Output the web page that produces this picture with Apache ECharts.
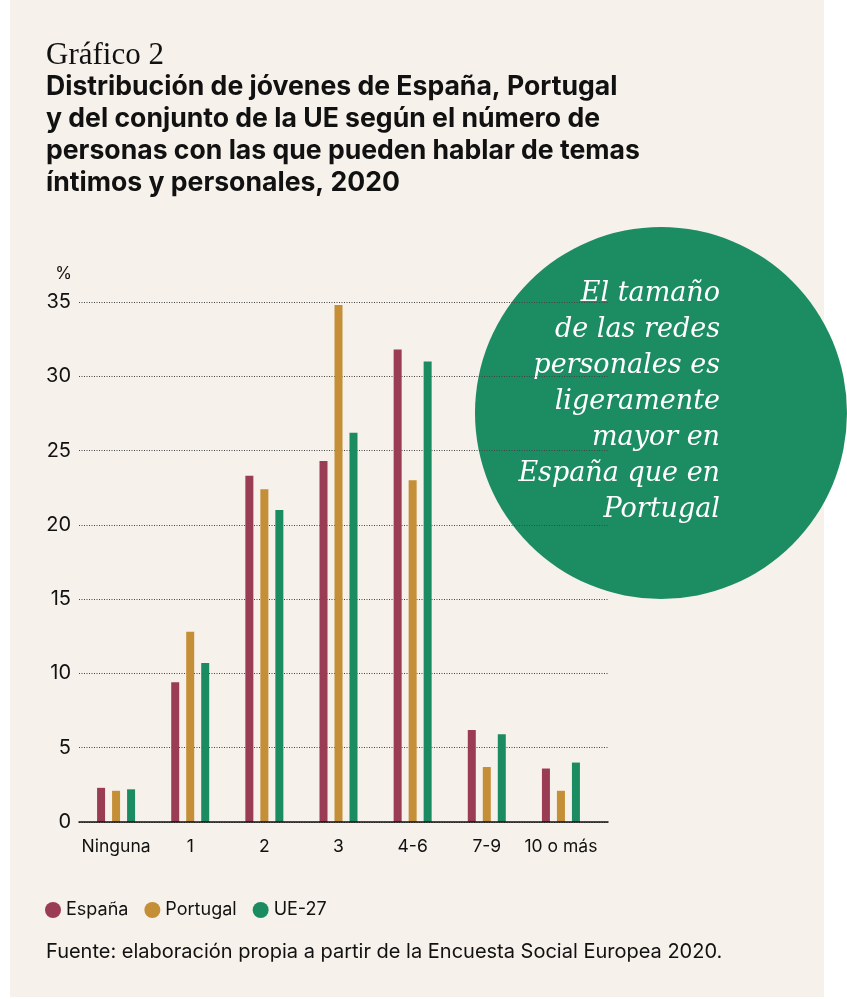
<!DOCTYPE html>
<html>
<head>
<meta charset="utf-8">
<script src="https://cdn.jsdelivr.net/npm/echarts@6/dist/echarts.min.js"></script>
<style>
  html, body { margin: 0; padding: 0; background: #ffffff; }
  #chart { width: 847px; height: 999px; }
</style>
</head>
<body>
<div id="chart"></div>
<script>
// data
const categories = ['Ninguna', '1', '2', '3', '4-6', '7-9', '10 o más'];
const espana   = [2.3, 9.4, 23.3, 24.3, 31.8, 6.2, 3.6];
const portugal = [2.1, 12.8, 22.4, 34.8, 23.0, 3.7, 2.1];
const ue27     = [2.2, 10.7, 21.0, 26.2, 31.0, 5.9, 4.0];
const seriesNames = ['España', 'Portugal', 'UE-27'];
const yTicks = { min: 0, max: 35, interval: 5 };

const titleLines = [
    'Distribución de jóvenes de España, Portugal',
    'y del conjunto de la UE según el número de',
    'personas con las que pueden hablar de temas',
    'íntimos y personales, 2020'
];
const calloutLines = [
    'El tamaño',
    'de las redes',
    'personales es',
    'ligeramente',
    'mayor en',
    'España que en',
    'Portugal'
];
const sourceText = 'Fuente: elaboración propia a partir de la Encuesta Social Europea 2020.';

const colors = ['#9b3c55', '#c48f36', '#1b8c62'];
const sans = 'Inter, "Noto Sans", sans-serif';

const chart = echarts.init(document.getElementById('chart'), null, { renderer: 'canvas' });

const barSeries = [espana, portugal, ue27].map((vals, i) => ({
    name: seriesNames[i],
    type: 'bar',
    xAxisIndex: 0,
    yAxisIndex: 0,
    barWidth: 8,
    barGap: '87.5%',
    itemStyle: { color: colors[i] },
    emphasis: { disabled: true },
    data: vals,
    z: 3
}));

const option = {
    backgroundColor: '#ffffff',
    animation: false,
    color: colors,
    title: [
        {
            text: 'Gráfico 2',
            left: 46, top: 38, padding: 0,
            textStyle: { fontFamily: '"Liberation Serif", serif', fontWeight: 'normal', fontSize: 31, lineHeight: 35, color: '#111' }
        },
        {
            text: titleLines.join('\n'),
            left: 46, top: 71, padding: 0,
            textStyle: { fontFamily: sans, fontWeight: 'bold', fontSize: 26.6, lineHeight: 32, color: '#111' }
        },
        {
            text: sourceText,
            left: 46, top: 940, padding: 0,
            textStyle: { fontFamily: sans, fontWeight: 'normal', fontSize: 20, lineHeight: 24, color: '#111' }
        }
    ],
    legend: {
        data: seriesNames,
        left: 45, top: 901, padding: 0,
        icon: 'circle',
        itemWidth: 16, itemHeight: 16, itemGap: 16,
        selectedMode: false,
        textStyle: { fontFamily: sans, fontSize: 18, color: '#111' }
    },
    graphic: [
        {
            type: 'rect', z: -10, silent: true,
            shape: { x: 10, y: 0, width: 814, height: 997 },
            style: { fill: '#f6f1ea' }
        },
        {
            type: 'group', z: 100, silent: true,
            children: [
                { type: 'circle', shape: { cx: 661, cy: 413, r: 186 }, style: { fill: '#1c8c62' } }
            ].concat(calloutLines.map((t, i) => ({
                type: 'text',
                style: {
                    text: t, x: 720, y: 307 + i * 36,
                    textAlign: 'right', textVerticalAlign: 'bottom',
                    font: 'italic 27px "DejaVu Serif", serif',
                    fill: '#ffffff'
                }
            })))
        }
    ],
    grid: [
        { left: 79, top: 302, width: 519, height: 520, containLabel: false },
        { left: 79, top: 302, width: 529, height: 520, containLabel: false }
    ],
    xAxis: [
        {
            type: 'category', gridIndex: 0, data: categories,
            axisLine: { show: false }, axisTick: { show: false },
            axisLabel: { interval: 0, margin: 16, fontFamily: sans, fontSize: 17.5, color: '#111' }
        },
        {
            type: 'category', gridIndex: 1, data: [''],
            axisLine: { show: true, lineStyle: { color: '#111', width: 1.5 } },
            axisTick: { show: false }, axisLabel: { show: false }, z: 4
        }
    ],
    yAxis: [
        {
            type: 'value', gridIndex: 0, min: yTicks.min, max: yTicks.max, interval: yTicks.interval,
            axisLine: { show: false }, axisTick: { show: false },
            axisLabel: { show: false }, splitLine: { show: false }
        },
        {
            type: 'value', gridIndex: 1, min: yTicks.min, max: yTicks.max, interval: yTicks.interval,
            name: '%', nameLocation: 'end', nameGap: 20,
            nameTextStyle: { fontFamily: sans, fontSize: 17, color: '#111', align: 'right', padding: [0, 7, 0, 0] },
            axisLine: { show: false }, axisTick: { show: false },
            axisLabel: { margin: 8, fontFamily: sans, fontSize: 20, color: '#111' },
            splitLine: { show: true, lineStyle: { color: '#444', width: 1, type: [1, 1.5] } }
        }
    ],
    series: barSeries
};

chart.setOption(option);
</script>
</body>
</html>
